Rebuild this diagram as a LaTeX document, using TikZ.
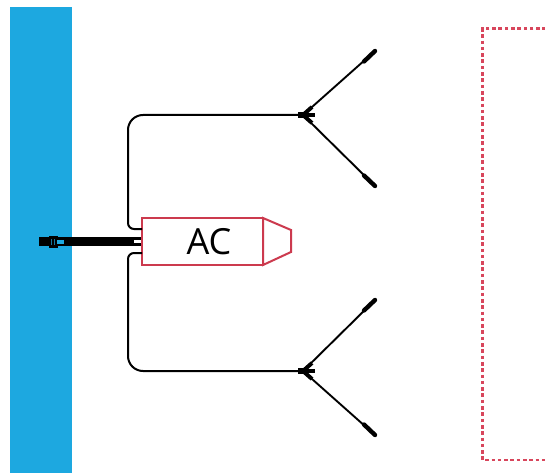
\documentclass[tikz,border=0pt]{standalone}
\usepackage{fontspec}
\setmainfont{Open Sans}
\definecolor{wall}{HTML}{1DA8E0}
\definecolor{redline}{HTML}{CC3A4E}
\definecolor{framered}{HTML}{D8465C}
\tikzset{
  wire/.style={draw=black,line width=2pt},
  arm/.style={draw=black,line width=1.9pt},
  tipend/.style={draw=black,line width=4.4pt,line cap=round},
  hub/.style={draw=black,line width=5.4pt},
  prong/.style={draw=black,line width=4pt},
  acbox/.style={draw=redline,line width=2pt,fill=white,minimum width=121pt,minimum height=47pt,inner sep=0pt,outer sep=0pt,anchor=north west},
  aclabel/.style={font=\fontsize{36}{36}\selectfont,inner sep=0pt},
  nosebox/.style={draw=redline,line width=2pt,fill=white},
  framebox/.style={draw=framered,line width=2.3pt,dash pattern=on 3.6pt off 2.7pt}
}
\begin{document}
\begin{tikzpicture}[x=1pt,y=-1pt]
\useasboundingbox (0,0) rectangle (545,473);
\fill[white] (0,0) rectangle (545,473);
\fill[wall] (10,7) rectangle (72,473);
% dashed frame
\draw[framebox] (546,28.5) -- (482.5,28.5) -- (482.5,460) -- (546,460);
% main cable
\fill[black] (38.5,236.8) rectangle (142,246.2);
\draw[black,line width=.6pt,fill=black] (49.5,236) rectangle (57,247);
\fill[wall] (57,239.5) rectangle (64,244);
\fill[wall!70!black] (51,238.5) rectangle (52.2,244.5);
\fill[wall!70!black] (53.6,238.5) rectangle (54.8,244.5);
\fill[white] (134,239.8) rectangle (141,243.4);
% AC
\node[acbox] (ac) at (142,218) {};
\node[aclabel] (aclab) at (209,242) {AC};
\draw[nosebox] (ac.north east) -- (291,230) -- (291,252) -- (ac.south east) -- cycle;
% hubs and connectors
\coordinate (h1) at (303,115);
\coordinate (h2) at (303,371);
\coordinate (a1) at (142,229);
\coordinate (a2) at (142,253);
\draw[wire] (a1) -- (134,229) to[out=180,in=-90] (128,223) -- (128,130) to[out=90,in=180] (143,115) -- (h1);
\draw[wire] (a2) -- (134,253) to[out=180,in=90] (128,259) -- (128,356) to[out=-90,in=180] (143,371) -- (h2);
\foreach \h/\ux/\uy/\lx/\ly/\umx/\umy/\lmx/\lmy/\upx/\upy/\lpx/\lpy in {%
  h1/375/51/375/186/364/61.5/364/175.5/312/107/312/123,
  h2/375/300/375/435/364/310.5/364/424.5/312/363/312/379}{
  \coordinate (ut) at (\ux,\uy);
  \coordinate (um) at (\umx,\umy);
  \coordinate (lt) at (\lx,\ly);
  \coordinate (lm) at (\lmx,\lmy);
  \coordinate (up) at (\upx,\upy);
  \coordinate (lp) at (\lpx,\lpy);
  \draw[arm] (\h) -- (ut);
  \draw[arm] (\h) -- (lt);
  \draw[tipend] (um) -- (ut);
  \draw[tipend] (lm) -- (lt);
  \draw[hub] ([xshift=-5pt]\h) -- ([xshift=5pt]\h);
  \draw[prong] (\h) -- ([xshift=12pt]\h);
  \draw[prong] (\h) -- (up);
  \draw[prong] (\h) -- (lp);
}
\end{tikzpicture}
\end{document}
